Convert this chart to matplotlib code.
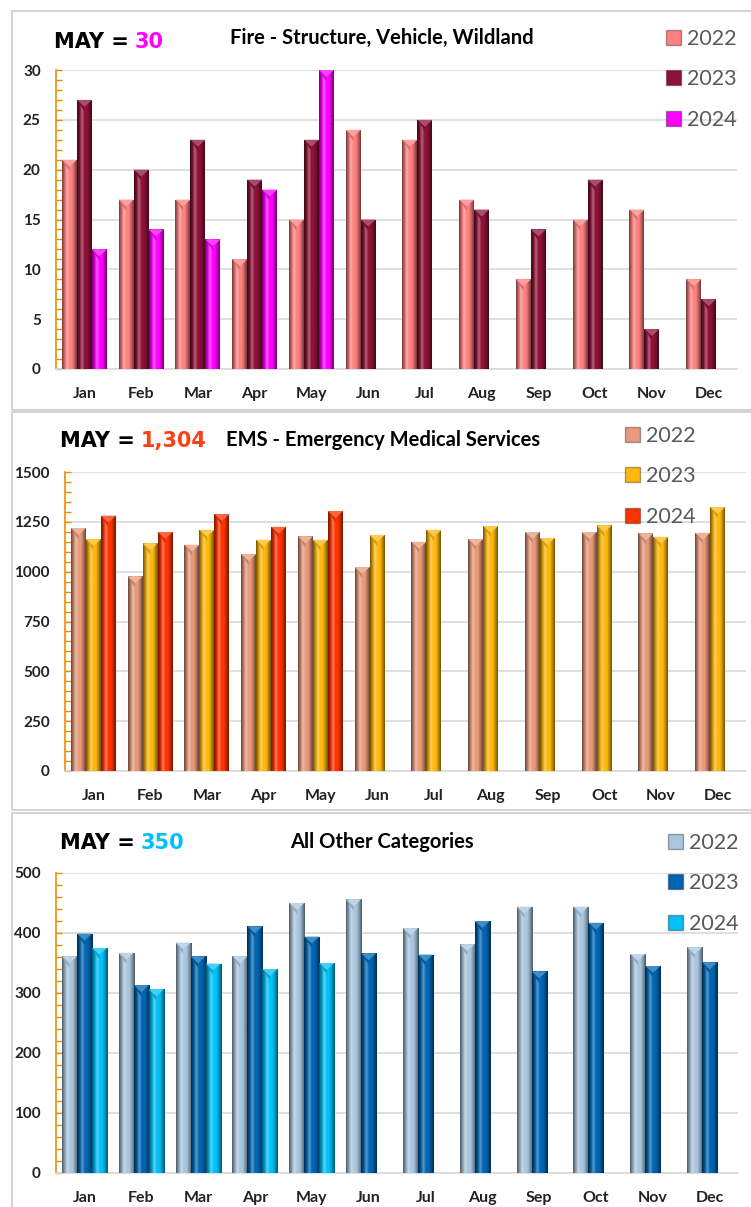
import matplotlib
matplotlib.use("Agg")
import matplotlib.pyplot as plt
import numpy as np
from matplotlib.patches import Patch, Rectangle, Polygon
from matplotlib.colors import to_rgb
from matplotlib.ticker import MultipleLocator

# Data
months = ['Jan', 'Feb', 'Mar', 'Apr', 'May', 'Jun', 'Jul', 'Aug', 'Sep', 'Oct', 'Nov', 'Dec']
years = ['2022', '2023', '2024']

fire_2022 = [21, 17, 17, 11, 15, 24, 23, 17, 9, 15, 16, 9]
fire_2023 = [27, 20, 23, 19, 23, 15, 25, 16, 14, 19, 4, 7]
fire_2024 = [12, 14, 13, 18, 30]

ems_2022 = [1219, 976, 1135, 1088, 1177, 1023, 1150, 1163, 1199, 1199, 1192, 1195]
ems_2023 = [1163, 1142, 1210, 1160, 1160, 1184, 1210, 1229, 1169, 1232, 1175, 1324]
ems_2024 = [1281, 1199, 1289, 1225, 1304]

other_2022 = [361, 367, 384, 361, 450, 456, 408, 381, 444, 444, 365, 376]
other_2023 = [399, 313, 361, 411, 394, 366, 364, 420, 336, 417, 345, 351]
other_2024 = [375, 306, 349, 340, 350]

W, H = 751, 1207
fig = plt.figure(figsize=(W / 100, H / 100), dpi=100)
fig.patch.set_facecolor('white')


def fx(px):
    return px / W


def fy(py):
    return 1 - py / H


def shaded_bar(ax, rect, color, cap):
    # horizontal gradient + pointed cap to fake the bevelled excel look
    c = np.array(to_rgb(color))
    dark = c * 0.45
    light = np.clip(c + (1 - c) * 0.35, 0, 1)
    stops = [dark, c * 0.8, light, c, c, c * 0.75, dark]
    n = 60
    pos = np.linspace(0, 1, len(stops))
    xs = np.linspace(0, 1, n)
    grad = np.stack([np.interp(xs, pos, [s[k] for s in stops]) for k in range(3)], axis=-1)
    x0, w, h = rect.get_x(), rect.get_width(), rect.get_height()
    im = ax.imshow(grad[np.newaxis, :, :], extent=(x0, x0 + w, 0, h),
                   aspect='auto', zorder=3, interpolation='bilinear')
    im.set_clip_path(rect)
    rect.set_facecolor('none')
    top = np.clip(c + (1 - c) * 0.25, 0, 1)
    ax.add_patch(Polygon([(x0, h), (x0 + w, h), (x0 + w / 2, h - cap)],
                         closed=True, facecolor=top, edgecolor='none', zorder=4))
    ax.add_patch(Polygon([(x0, h), (x0 + w / 2, h - cap), (x0 + w / 2, h - cap * 1.6)],
                         closed=True, facecolor=c * 0.85, edgecolor='none', zorder=4))


panels = [
    dict(data=[fire_2022, fire_2023, fire_2024], colors=['#FF8080', '#8E1238', '#FF00FF'],
         box=(56, 70, 737, 369), ymax=30, major=5, minor=1,
         title='Fire - Structure, Vehicle, Wildland', may='30', maycolor='#FF00FF',
         may_xy=(54, 42), title_xy=(382, 38), leg_xy=(655, 18), frame=(12, 11, 410)),
    dict(data=[ems_2022, ems_2023, ems_2024], colors=['#E89A7A', '#FFB80C', '#FF3300'],
         box=(65, 472, 746, 771), ymax=1500, major=250, minor=50,
         title='EMS - Emergency Medical Services', may='1,304', maycolor='#FF4010',
         may_xy=(60, 441), title_xy=(383, 440), leg_xy=(614, 415), frame=(12, 412, 810)),
    dict(data=[other_2022, other_2023, other_2024], colors=['#A9C6DE', '#0066B3', '#00C0F8'],
         box=(56, 873, 738, 1173), ymax=500, major=100, minor=20,
         title='All Other Categories', may='350', maycolor='#00BFFF',
         may_xy=(60, 843), title_xy=(382, 842), leg_xy=(657, 822), frame=(12, 813, 1215)),
]

bar_w = 0.264
x = np.arange(len(months))

for p in panels:
    # panel frame
    fl, ft, fb = p['frame']
    fig.patches.append(Rectangle((fx(fl), fy(fb)), fx(W + 20) - fx(fl), fy(ft) - fy(fb),
                                 transform=fig.transFigure, fill=False,
                                 edgecolor='#D4D4D4', linewidth=1.5, zorder=0))

    l, t, r, b = p['box']
    ax = fig.add_axes([fx(l), fy(b), fx(r) - fx(l), fy(t) - fy(b)])
    ax.set_facecolor('none')
    cap = p['ymax'] * 7 / (b - t)

    for i, (vals, col) in enumerate(zip(p['data'], p['colors'])):
        bars = ax.bar(x[:len(vals)] + (i - 1) * bar_w, vals, width=bar_w,
                      color=col, zorder=3, linewidth=0)
        for rect in bars:
            shaded_bar(ax, rect, col, cap)

    ax.set_xlim(-0.5, 11.5)
    ax.set_ylim(0, p['ymax'])
    ax.set_xticks(x)
    ax.set_xticklabels(months, fontsize=11.5, fontweight='bold', color='#222222', family='Lato')
    ax.tick_params(axis='x', length=0, pad=13)
    ax.yaxis.set_major_locator(MultipleLocator(p['major']))
    ax.yaxis.set_minor_locator(MultipleLocator(p['minor']))
    ax.tick_params(axis='y', which='both', direction='in', color='#F08C00', length=4, width=1)
    for lab in ax.get_yticklabels():
        lab.set_fontweight('bold')
        lab.set_fontsize(11)
        lab.set_color('#222222')
        lab.set_family('Lato')
    ax.tick_params(axis='y', pad=11)
    ax.grid(axis='y', color='#D9D9D9', linewidth=1.2, zorder=0)
    ax.set_axisbelow(True)
    for s in ['top', 'right']:
        ax.spines[s].set_visible(False)
    ax.spines['left'].set_color('#F08C00')
    ax.spines['left'].set_linewidth(1.2)
    ax.spines['bottom'].set_color('#D9D9D9')
    ax.spines['bottom'].set_linewidth(1.2)

    # header texts
    t1 = fig.text(fx(p['may_xy'][0]), fy(p['may_xy'][1]), 'MAY =', fontsize=15,
                  fontweight='bold', family='DejaVu Sans', color='black', va='center')
    ax.annotate(p['may'], xy=(1, 0.5), xycoords=t1, xytext=(4, 0), textcoords='offset points',
                va='center', ha='left', fontsize=15, fontweight='bold',
                family='DejaVu Sans', color=p['maycolor'])
    fig.text(fx(p['title_xy'][0]), fy(p['title_xy'][1]), p['title'], fontsize=14.5,
             fontweight='bold', family='Lato', color='black', ha='center', va='center')

    handles = [Patch(facecolor=c, edgecolor='#00000055') for c in p['colors']]
    fig.legend(handles, years, loc='upper left',
               bbox_to_anchor=(fx(p['leg_xy'][0]), fy(p['leg_xy'][1])),
               frameon=False, labelcolor='#595959',
               handlelength=0.7, handleheight=0.7, handletextpad=0.3,
               labelspacing=0.95, borderpad=0, prop={'family': 'Lato', 'size': 15.5})

fig.savefig('out.png', dpi=100)
